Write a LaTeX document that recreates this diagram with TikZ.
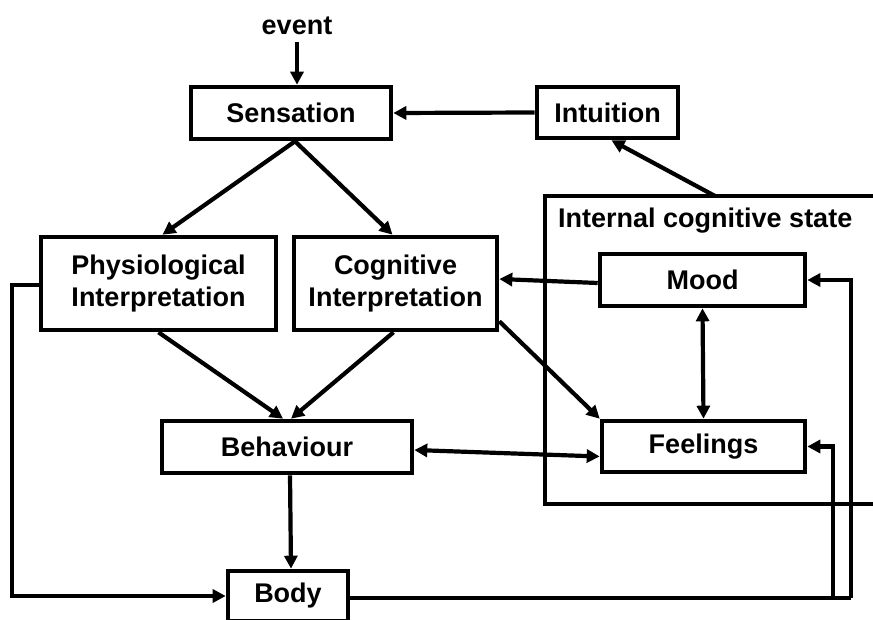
\documentclass[tikz,border=0pt]{standalone}
\usepackage{fontspec}
\setmainfont{Liberation Sans}
\usetikzlibrary{arrows.meta}
\begin{document}
\begin{tikzpicture}[x=1pt,y=-1pt,
  box/.style={draw, line width=4.6pt, font=\fontsize{27}{32}\selectfont\bfseries, align=center, inner sep=0pt},
  lbl/.style={font=\fontsize{27}{32}\selectfont\bfseries, inner sep=0pt},
  ln/.style={line width=4.2pt},
  arr/.style={line width=4.2pt, -{Triangle[length=13pt,width=13pt]}},
  barr/.style={line width=4.2pt, {Triangle[length=13pt,width=13pt]}-{Triangle[length=13pt,width=13pt]}}]
\useasboundingbox (0,0) rectangle (873,620);
\clip (0,0) rectangle (873,620);
\fill[white] (0,0) rectangle (873,620);

% outer box: internal cognitive state
\draw[ln, line width=4.6pt] (900,196) -- (545,196) -- (545,504) -- (900,504);
\coordinate (icstop) at (715,196);
\node[lbl, anchor=base west] (icslabel) at (558,228) {Internal cognitive state};

% nodes
\node[lbl, anchor=base] (event) at (297,35) {event};
\node[box, minimum width=200pt, minimum height=52pt] (sens) at (291,113) {Sensation};
\node[box, minimum width=141pt, minimum height=51pt] (intu) at (607.5,112.5) {Intuition};
\node[box, minimum width=235pt, minimum height=93pt] (phys) at (158.5,283.5) {Physiological\\Interpretation};
\node[box, minimum width=203pt, minimum height=93pt] (cog) at (395.5,283.5) {Cognitive\\Interpretation};
\node[box, minimum width=250pt, minimum height=52pt] (beh) at (287,447) {Behaviour};
\node[box, minimum width=205pt, minimum height=52pt] (mood) at (702.5,280) {Mood};
\node[box, minimum width=203pt, minimum height=51pt] (feel) at (703.5,446.5) {Feelings};
\node[box, minimum width=120pt, minimum height=50pt] (body) at (288,596) {Body};

% connectors
\draw[arr] ([yshift=-7pt]event.south) -- (event.south |- sens.north);
\draw[arr] (intu.west) -- (sens.east);
\draw[arr] (icstop) -- ([xshift=4pt]intu.south);
\draw[arr] ([xshift=4pt]sens.south) -- ([xshift=4pt]phys.north);
\draw[arr] ([xshift=4pt]sens.south) -- ([xshift=-3pt]cog.north);
\draw[arr] (phys.south) -- ([xshift=-4pt]beh.north);
\draw[arr] ([xshift=-2pt]cog.south) -- ([xshift=4pt]beh.north);
\draw[arr] ([yshift=-3pt]mood.west) -- ([yshift=4.5pt]cog.east);
\draw[arr] ([yshift=11pt]cog.south east) -- (feel.north west);
\draw[barr] (mood.south) -- (feel.north);
\draw[barr] ([yshift=-3pt]beh.east) -- ([yshift=-10pt]feel.west);
\draw[arr] ([xshift=3pt]beh.south) -- ([xshift=3pt]body.north);

\coordinate (lefttop) at (12,285);
\draw[arr] (phys.west |- lefttop) -- (lefttop) -- (lefttop |- body.west) -- (body.west);

\coordinate (rbot) at (851,598);
\coordinate (rbot2) at (833,598);
\draw[ln] ([yshift=-2pt]body.east) -- (rbot);
\draw[arr] (rbot) -- (rbot |- mood.east) -- (mood.east);
\draw[arr] (rbot2) -- (rbot2 |- feel.east) -- (feel.east);
\end{tikzpicture}
\end{document}
